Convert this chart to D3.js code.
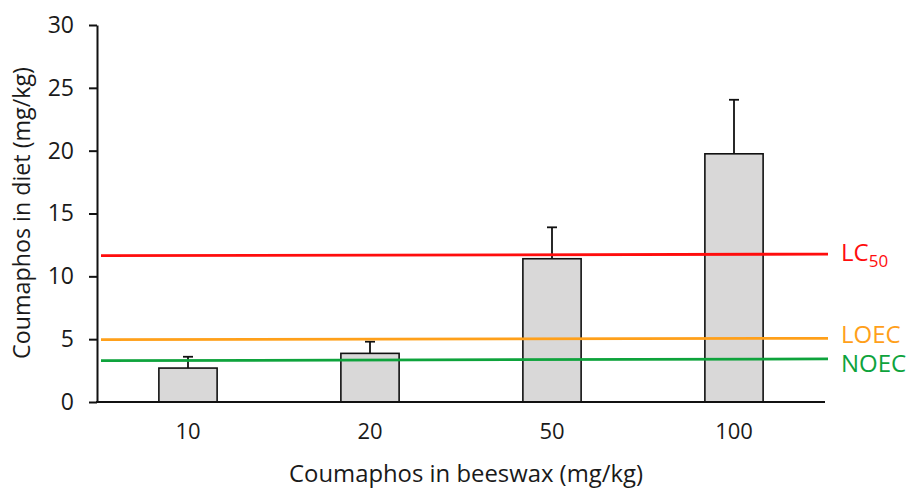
<!DOCTYPE html>
<html>
<head>
<meta charset="utf-8">
<script src="https://cdn.jsdelivr.net/npm/d3@7"></script>
<style>
  html, body { margin: 0; padding: 0; background: #fff; }
  svg { display: block; }
  text { font-family: "Open Sans", "Liberation Sans", sans-serif; }
</style>
</head>
<body>
<svg id="chart" width="920" height="490"></svg>
<script>
// ---- data ----
const categories = ["10", "20", "50", "100"];
const meanValues = [2.7, 3.87, 11.4, 19.75];
const upperError = [3.6, 4.8, 13.9, 24.05];
const yTicks = [0, 5, 10, 15, 20, 25, 30];
const thresholdNames = ["LC50", "LOEC", "NOEC"];
const thresholdStart = [11.64, 4.96, 3.29];
const thresholdEnd = [11.77, 5.07, 3.43];
const thresholdColors = ["#ff0d0d", "#ffa01a", "#0ea33c"];
const xTitle = "Coumaphos in beeswax (mg/kg)";
const yTitle = "Coumaphos in diet (mg/kg)";

(function () {
// ---- layout ----
const svg = d3.select("#chart");
const pLeft = 97, pRight = 825, pTop = 25, pBottom = 402;
const lineEnd = 828;

const x = d3.scaleBand().domain(categories).range([pLeft, pRight])
  .paddingInner(0.68).paddingOuter(0.34);
const y = d3.scaleLinear().domain([0, 30]).range([pBottom, pTop]);
const xLine = d3.scaleLinear().domain([0, 1]).range([pLeft + 4, lineEnd]);

function fitWidth(sel, target) {
  const w = sel.node().getComputedTextLength();
  const fs = parseFloat(sel.attr("font-size"));
  if (w > 0) sel.attr("font-size", fs * target / w);
}

// bars
svg.append("g").selectAll("rect").data(categories).join("rect")
  .attr("x", d => x(d))
  .attr("y", (d, i) => y(meanValues[i]))
  .attr("width", x.bandwidth())
  .attr("height", (d, i) => y(0) - y(meanValues[i]))
  .attr("fill", "#d9d8d8")
  .attr("stroke", "#111")
  .attr("stroke-width", 1.6);

// error bars
const eb = svg.append("g").attr("stroke", "#111").attr("stroke-width", 1.8);
categories.forEach((c, i) => {
  const cx = x(c) + x.bandwidth() / 2;
  eb.append("line").attr("x1", cx).attr("x2", cx)
    .attr("y1", y(meanValues[i])).attr("y2", y(upperError[i]));
  eb.append("line").attr("x1", cx - 5).attr("x2", cx + 5)
    .attr("y1", y(upperError[i])).attr("y2", y(upperError[i]));
});

// threshold lines
thresholdNames.forEach((n, i) => {
  svg.append("line")
    .attr("x1", xLine(0)).attr("x2", xLine(1))
    .attr("y1", y(thresholdStart[i])).attr("y2", y(thresholdEnd[i]))
    .attr("stroke", thresholdColors[i]).attr("stroke-width", 2.8);
});

// y axis
const yAxis = svg.append("g").attr("transform", `translate(${pLeft},0)`)
  .call(d3.axisLeft(y).tickValues(yTicks).tickSize(8).tickPadding(15).tickSizeOuter(0));
yAxis.select(".domain").attr("stroke", "#111").attr("stroke-width", 2);
yAxis.selectAll(".tick line").attr("stroke", "#111").attr("stroke-width", 2);
yAxis.selectAll(".tick text").attr("font-size", 23).attr("fill", "#1a1a1a")
  .attr("font-family", "'Open Sans', sans-serif");

// x axis
const xAxis = svg.append("g").attr("transform", `translate(0,${pBottom})`)
  .call(d3.axisBottom(x).tickSize(0).tickPadding(21).tickSizeOuter(0));
xAxis.select(".domain").attr("stroke", "#111").attr("stroke-width", 2)
  .attr("d", `M${pLeft - 1},0H${pRight}`);
xAxis.selectAll(".tick text").attr("font-size", 22).attr("fill", "#1a1a1a")
  .attr("font-family", "'Open Sans', sans-serif");

// axis titles
const xt = svg.append("text").attr("x", (289 + 643) / 2).attr("y", 482)
  .attr("text-anchor", "middle").attr("font-size", 20).attr("fill", "#1a1a1a").text(xTitle);
fitWidth(xt, 354);
const yt = svg.append("text")
  .attr("transform", `translate(30,${(67 + 359) / 2}) rotate(-90)`)
  .attr("text-anchor", "middle").attr("font-size", 20).attr("fill", "#1a1a1a").text(yTitle);
fitWidth(yt, 292);

// threshold labels
const labelBase = [261, 343, 372];
thresholdNames.forEach((n, i) => {
  const t = svg.append("text").attr("x", 841).attr("y", labelBase[i])
    .attr("font-size", 24).attr("fill", thresholdColors[i]);
  if (n === "LC50") {
    t.append("tspan").text("LC");
    t.append("tspan").attr("font-size", 17).attr("dy", 6).text("50");
  } else {
    t.text(n);
  }
});
})();
</script>
</body>
</html>
